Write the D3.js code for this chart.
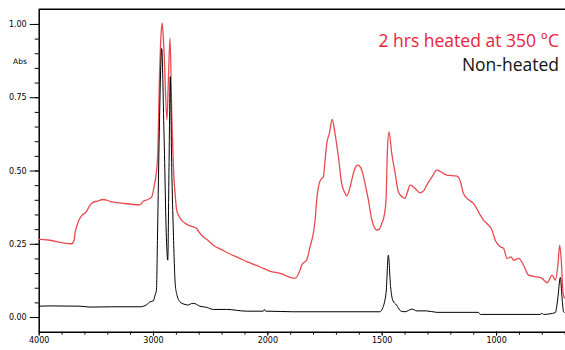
<!DOCTYPE html>
<html>
<head>
<meta charset="utf-8">
<script src="https://cdn.jsdelivr.net/npm/d3@7"></script>
<style>
  body { margin: 0; background: #fff; }
  svg { display: block; }
  .axis text { font-family: "DejaVu Sans", sans-serif; font-size: 8px; fill: #000; }
  .axis path, .axis line { stroke: #000; }
  .legend { font-family: "Open Sans", sans-serif; font-size: 17.5px; }
</style>
</head>
<body>
<div id="chart"></div>
<script>
// heated sample (red)
const heatedWn = [4000, 3995, 3901, 3787, 3711, 3690, 3682, 3660, 3639, 3615, 3595, 3575, 3551, 3520, 3493, 3435, 3376, 3260, 3114,
  3085, 3040, 3011, 2991, 2975, 2959, 2943, 2930, 2920, 2904, 2878, 2866, 2851, 2836, 2822, 2801, 2793, 2770, 2749, 2710,
  2676, 2647, 2618, 2589, 2560, 2520, 2472, 2400, 2326, 2250, 2180, 2100, 2035, 1990, 1944, 1879, 1857, 1850, 1835, 1828,
  1813, 1799, 1791, 1784, 1773, 1765, 1755, 1748, 1740, 1729, 1716, 1704, 1689, 1675, 1662, 1653, 1642, 1631, 1618, 1605,
  1593, 1583, 1570, 1558, 1543, 1521, 1510, 1500, 1488, 1481, 1475, 1468, 1456, 1441, 1427, 1410, 1398, 1388, 1376, 1354,
  1332, 1315, 1303, 1280, 1259, 1240, 1215, 1171, 1155, 1143, 1120, 1099, 1069, 1055, 1040, 1018, 1004, 982, 967, 952,
  935, 923, 901, 880, 858, 821, 799, 777, 755, 741, 729, 722, 715, 707, 700];
const heatedAbs = [0.265, 0.265, 0.262, 0.253, 0.250, 0.262, 0.286, 0.318, 0.337, 0.350, 0.354, 0.365, 0.382, 0.392, 0.395, 0.401, 0.395, 0.388, 0.383,
  0.395, 0.402, 0.410, 0.444, 0.48, 0.552, 0.82, 0.96, 1.004, 0.91, 0.672, 0.80, 0.952, 0.69, 0.518, 0.393, 0.365, 0.342, 0.330, 0.318,
  0.311, 0.308, 0.302, 0.286, 0.274, 0.262, 0.245, 0.230, 0.215, 0.202, 0.189, 0.177, 0.166, 0.157, 0.149, 0.132, 0.160, 0.177, 0.189, 0.194,
  0.240, 0.285, 0.331, 0.399, 0.456, 0.470, 0.478, 0.530, 0.592, 0.626, 0.674, 0.626, 0.546, 0.456, 0.425, 0.413, 0.432, 0.467, 0.505, 0.518,
  0.512, 0.490, 0.445, 0.399, 0.331, 0.297, 0.300, 0.319, 0.350, 0.399, 0.569, 0.632, 0.558, 0.490, 0.427, 0.410, 0.405, 0.425, 0.450, 0.439,
  0.424, 0.432, 0.450, 0.478, 0.501, 0.495, 0.484, 0.481, 0.460, 0.422, 0.400, 0.388, 0.348, 0.331, 0.319, 0.297, 0.263, 0.240, 0.234, 0.200,
  0.205, 0.194, 0.200, 0.177, 0.143, 0.137, 0.132, 0.117, 0.143, 0.126, 0.183, 0.245, 0.194, 0.081, 0.064];

// non-heated sample (black)
const rawWn = [4000, 3901, 3639, 3551, 3361, 3114, 3055, 3026, 2997, 2982, 2970, 2960, 2945, 2924, 2904, 2880, 2871, 2860,
  2849, 2836, 2822, 2805, 2793, 2764, 2729, 2691, 2676, 2647, 2589, 2530, 2472, 2355, 2180, 2035, 2026, 2015, 2003, 1886,
  1507, 1500, 1481, 1471, 1461, 1452, 1435, 1417, 1398, 1368, 1346, 1303, 1259, 1077, 1069, 807, 799, 793, 741, 731,
  719, 712, 705, 700];
const rawAbs = [0.037, 0.038, 0.037, 0.034, 0.035, 0.035, 0.042, 0.052, 0.055, 0.075, 0.092, 0.29, 0.63, 0.916, 0.63, 0.24, 0.194, 0.51,
  0.82, 0.51, 0.29, 0.11, 0.08, 0.052, 0.044, 0.041, 0.044, 0.047, 0.037, 0.033, 0.026, 0.026, 0.020, 0.020, 0.026, 0.020, 0.020, 0.018,
  0.018, 0.024, 0.081, 0.211, 0.103, 0.058, 0.041, 0.021, 0.018, 0.027, 0.021, 0.021, 0.016, 0.016, 0.009, 0.009, 0.013, 0.009, 0.015, 0.058,
  0.135, 0.069, 0.018, 0.015];

const yMajor = [0, 0.25, 0.5, 0.75, 1.0];
const yMinor = d3.range(0, 21).map(i => i * 0.05);
const xMajor = [4000, 3000, 2000, 1500, 1000];
const xMinor = d3.range(4000, 2000, -200).concat(d3.range(2000, 699, -100));
const legendItems = [
  {label: "2 hrs heated at 350 \u00B0C", color: "#e8233c"},
  {label: "Non-heated", color: "#111"}
];

const width = 565, height = 350;

const svg = d3.select("#chart").append("svg")
  .attr("width", width)
  .attr("height", height);

// wavenumber axis is expanded 2x below 2000 cm-1
const x = d3.scaleLinear()
  .domain([4000, 2000, 700])
  .range([38.7, 267.3, 564.7]);

const y = d3.scaleLinear()
  .domain([-0.05, 1.05])
  .range([331.7, 9.3]);

// frame top
svg.append("line")
  .attr("x1", x(4000)).attr("x2", width)
  .attr("y1", y(1.05)).attr("y2", y(1.05))
  .attr("stroke", "#000")
  .attr("stroke-width", 1.5);

// y axis
svg.append("g")
  .attr("class", "axis")
  .attr("transform", `translate(${x(4000)},0)`)
  .call(d3.axisLeft(y).tickValues(yMinor).tickSize(4).tickSizeOuter(0).tickFormat(""))
  .call(g => g.select(".domain").attr("stroke-width", 1.5));

svg.append("g")
  .attr("class", "axis")
  .attr("transform", `translate(${x(4000)},0)`)
  .call(d3.axisLeft(y).tickValues(yMajor).tickSize(9).tickSizeOuter(0).tickPadding(3).tickFormat(d3.format(".2f")))
  .call(g => g.select(".domain").remove());

// x axis
svg.append("g")
  .attr("class", "axis")
  .attr("transform", `translate(0,${y(-0.05)})`)
  .call(d3.axisBottom(x).tickValues(xMinor).tickSize(3).tickSizeOuter(0).tickFormat(""))
  .call(g => g.select(".domain").attr("stroke-width", 1.5));

svg.append("g")
  .attr("class", "axis")
  .attr("transform", `translate(0,${y(-0.05)})`)
  .call(d3.axisBottom(x).tickValues(xMajor).tickSize(4).tickSizeOuter(0).tickPadding(2).tickFormat(d3.format("d")))
  .call(g => g.select(".domain").remove());

svg.append("text")
  .attr("x", 13)
  .attr("y", 64)
  .attr("font-family", "DejaVu Sans, sans-serif")
  .attr("font-size", 7.5)
  .text("Abs");

// spectra
const line = d3.line()
  .curve(d3.curveMonotoneX)
  .x(d => x(d[0]))
  .y(d => y(d[1]));

svg.append("path")
  .datum(d3.zip(heatedWn, heatedAbs))
  .attr("fill", "none")
  .attr("stroke", "#e84a4f")
  .attr("stroke-width", 1.3)
  .attr("stroke-linejoin", "round")
  .attr("d", line);

svg.append("path")
  .datum(d3.zip(rawWn, rawAbs))
  .attr("fill", "none")
  .attr("stroke", "#000")
  .attr("stroke-width", 1)
  .attr("stroke-linejoin", "round")
  .attr("d", line);

// legend
svg.selectAll(".legend")
  .data(legendItems)
  .enter().append("text")
  .attr("class", "legend")
  .attr("x", 559)
  .attr("y", (d, i) => 46.7 + i * 24.5)
  .attr("text-anchor", "end")
  .attr("fill", d => d.color)
  .text(d => d.label);
</script>
</body>
</html>
